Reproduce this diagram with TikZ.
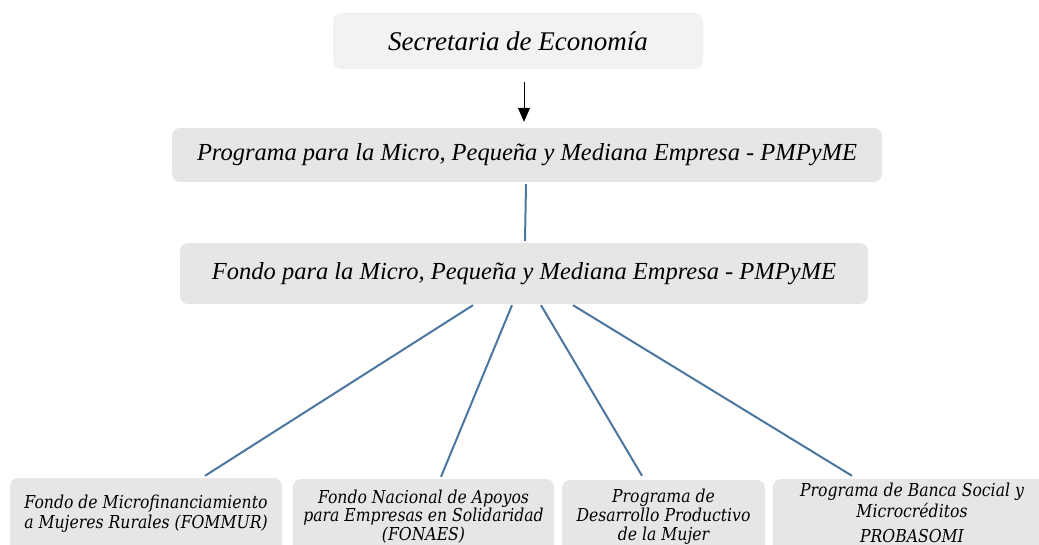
\documentclass[tikz,border=0pt]{standalone}
\usepackage{fontspec}
\setmainfont{Liberation Serif}
\newfontfamily\boxfont[FakeStretch=0.88]{DejaVu Serif}
\usetikzlibrary{arrows.meta}
\definecolor{boxgray}{HTML}{E6E6E6}
\definecolor{toplight}{HTML}{F2F2F2}
\definecolor{linkblue}{RGB}{74,118,160}
\begin{document}
\begin{tikzpicture}[x=1pt,y=-1pt,
  box/.style={rounded corners=8pt, fill=boxgray, inner sep=0pt},
  bigtext/.style={font=\fontsize{24.5}{28}\selectfont\itshape},
  lbl/.style={align=center, inner sep=0pt, anchor=north},
  link/.style={draw=linkblue, line width=2pt},
]
\useasboundingbox (0,0) rectangle (1039,545);
\clip (0,0) rectangle (1039,545);
\node[box, fill=toplight, minimum width=370pt, minimum height=56pt,
      font=\fontsize{27}{30}\selectfont\itshape] (sec) at (518,41) {Secretaria de Economía};
\node[box, bigtext, minimum width=710pt, minimum height=54pt] (prog) at (527,155)
  {Programa para la Micro, Pequeña y Mediana Empresa - PMPyME};
\node[box, bigtext, minimum width=688pt, minimum height=61pt] (fondo) at (524,273.5)
  {Fondo para la Micro, Pequeña y Mediana Empresa - PMPyME};

\node[box, minimum width=272pt, minimum height=100pt] (fa) at (146,528) {};
\node[box, minimum width=261pt, minimum height=100pt] (fb) at (423.5,529) {};
\node[box, minimum width=203pt, minimum height=100pt] (fc) at (663.5,530) {};
\node[box, minimum width=278pt, minimum height=100pt] (fd) at (912,529) {};

\node[lbl, font=\boxfont\fontsize{17.8}{20.5}\selectfont\itshape] (ta) at (146,494.6)
  {Fondo de Microfinanciamiento\\a Mujeres Rurales (FOMMUR)};
\node[lbl, font=\boxfont\fontsize{17.8}{18.5}\selectfont\itshape] (tb) at (423.5,489.6)
  {Fondo Nacional de Apoyos\\para Empresas en Solidaridad\\(FONAES)};
\node[lbl, font=\boxfont\fontsize{17.8}{19}\selectfont\itshape] (tc) at (663.5,488.7)
  {Programa de\\Desarrollo Productivo\\de la Mujer};
\node[lbl, font=\boxfont\fontsize{17.8}{21}\selectfont\itshape] (td) at (912,482.7)
  {Programa de Banca Social y\\Microcréditos\\[4pt]PROBASOMI};

\draw[line width=1pt, -{Triangle[length=14pt,width=12pt]}]
  ([xshift=6pt,yshift=-13pt]sec.south) -- ([xshift=-3pt,yshift=6pt]prog.north);
\draw[link] ([xshift=-1pt,yshift=-2pt]prog.south) -- ([xshift=1pt,yshift=2pt]fondo.north);
\draw[link] ([xshift=-51pt,yshift=-1pt]fondo.south) -- ([xshift=59pt,yshift=2pt]fa.north);
\draw[link] ([xshift=-12pt,yshift=-1pt]fondo.south) -- ([xshift=17.5pt,yshift=2pt]fb.north);
\draw[link] ([xshift=17pt,yshift=-1pt]fondo.south) -- ([xshift=-21.5pt,yshift=4pt]fc.north);
\draw[link] ([xshift=49pt,yshift=-1pt]fondo.south) -- ([xshift=-60pt,yshift=3pt]fd.north);
\end{tikzpicture}
\end{document}
